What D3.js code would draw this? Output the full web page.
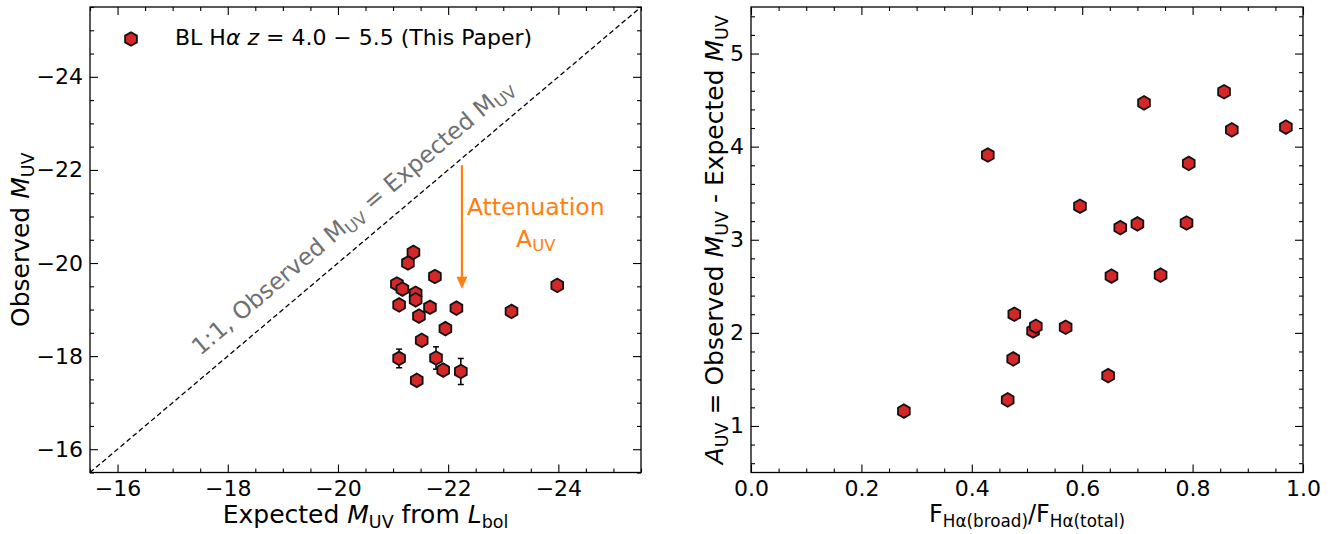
<!DOCTYPE html>
<html>
<head>
<meta charset="utf-8">
<script src="https://cdn.jsdelivr.net/npm/d3@7"></script>
<style>
  body { margin: 0; background: #fff; }
  text { font-family: "DejaVu Sans", sans-serif; }
</style>
</head>
<body>
<div id="chart"></div>
<script>
// left panel: expected vs observed M_UV
var expectedMuv = [-21.37, -21.27, -21.76, -21.07, -21.17, -21.41, -21.41, -21.11, -21.67, -22.15,
                   -23.98, -23.15, -21.47, -21.95, -21.52, -21.11, -21.78, -21.91, -22.23, -21.43];
var observedMuv = [-20.23, -20.00, -19.71, -19.55, -19.44, -19.35, -19.21, -19.10, -19.05, -19.03,
                   -19.52, -18.96, -18.86, -18.59, -18.34, -17.95, -17.96, -17.70, -17.67, -17.48];
var observedErr = [0.08, 0.08, 0.08, 0.08, 0.08, 0.08, 0.08, 0.08, 0.08, 0.08,
                   0.08, 0.08, 0.08, 0.08, 0.08, 0.20, 0.24, 0.10, 0.28, 0.08];

// right panel: broad fraction vs attenuation
var broadFrac   = [0.429, 0.277, 0.465, 0.475, 0.477, 0.511, 0.516, 0.570, 0.596, 0.647,
                   0.653, 0.669, 0.700, 0.712, 0.742, 0.789, 0.793, 0.857, 0.871, 0.969];
var attenuation = [3.91, 1.16, 1.28, 1.72, 2.20, 2.02, 2.07, 2.06, 3.36, 1.54,
                   2.61, 3.13, 3.17, 4.47, 2.62, 3.18, 3.82, 4.59, 4.18, 4.21];

var leftTicks = [-16, -18, -20, -22, -24];
var rightXTicks = [0.0, 0.2, 0.4, 0.6, 0.8, 1.0];
var rightYTicks = [1, 2, 3, 4, 5];

var red = "#d62728", orange = "#ff7f0e";
var tickFont = 22, labelFont = 25;

var svg = d3.select("#chart").append("svg")
    .attr("width", 1341)
    .attr("height", 534);

var xL = d3.scaleLinear().domain([-15.5, -25.5]).range([90, 641]);
var yL = d3.scaleLinear().domain([-15.5, -25.5]).range([472.5, 7]);
var xR = d3.scaleLinear().domain([0, 1]).range([751, 1303]);
var yR = d3.scaleLinear().domain([0.5, 5.5]).range([472.5, 7]);

function hexPath(r) {
  var pts = d3.range(6).map(function(k) {
    var a = Math.PI / 3 * k - Math.PI / 2;
    return [r * Math.cos(a), r * Math.sin(a)];
  });
  return "M" + pts.join("L") + "Z";
}
var hex = hexPath(6.8);

function minorOf(domain, step, majors) {
  var lo = Math.min(domain[0], domain[1]), hi = Math.max(domain[0], domain[1]);
  return d3.range(Math.ceil(lo / step - 1e-6) * step, hi + 1e-6, step)
    .filter(function(v) { return !majors.some(function(m) { return Math.abs(m - v) < 1e-6; }); });
}

function axes(x, y, xMajor, yMajor, xStep, yStep, xFmt, yFmt) {
  var x0 = x.range()[0], x1 = x.range()[1], y0 = y.range()[0], y1 = y.range()[1];
  var xMinor = minorOf(x.domain(), xStep, xMajor), yMinor = minorOf(y.domain(), yStep, yMajor);
  var specs = [
    [d3.axisBottom, x, "translate(0," + y0 + ")", xMajor, 8, xFmt],
    [d3.axisBottom, x, "translate(0," + y0 + ")", xMinor, 4, ""],
    [d3.axisTop, x, "translate(0," + y1 + ")", xMajor, 8, ""],
    [d3.axisTop, x, "translate(0," + y1 + ")", xMinor, 4, ""],
    [d3.axisLeft, y, "translate(" + x0 + ",0)", yMajor, 8, yFmt],
    [d3.axisLeft, y, "translate(" + x0 + ",0)", yMinor, 4, ""],
    [d3.axisRight, y, "translate(" + x1 + ",0)", yMajor, 8, ""],
    [d3.axisRight, y, "translate(" + x1 + ",0)", yMinor, 4, ""]
  ];
  specs.forEach(function(s) {
    var ax = s[0](s[1]).tickValues(s[3]).tickSize(-s[4]).tickPadding(s[0] === d3.axisLeft ? 7 : 8);
    ax.tickFormat(typeof s[5] === "string" ? function() { return ""; } : s[5]);
    var g = svg.append("g").attr("transform", s[2]).call(ax);
    g.select(".domain").remove();
    g.attr("font-family", "DejaVu Sans").attr("font-size", tickFont);
    g.selectAll(".tick line").attr("stroke", "#000").attr("stroke-width", 1.1);
    g.selectAll(".tick text").attr("fill", "#000");
  });
  svg.append("rect")
    .attr("x", x0).attr("y", y1)
    .attr("width", x1 - x0).attr("height", y0 - y1)
    .attr("fill", "none").attr("stroke", "#000").attr("stroke-width", 1.3);
}

// text with italic / subscript pieces
function richText(sel, parts, size) {
  var shift = size * 0.2;
  var down = false;
  parts.forEach(function(p) {
    var t = sel.append("tspan").text(p.t);
    if (p.i) t.attr("font-style", "italic");
    if (p.sub) {
      t.attr("font-size", size * 0.7);
      if (!down) { t.attr("dy", shift); down = true; }
    } else if (down) {
      t.attr("dy", -shift); down = false;
    }
  });
  return sel;
}

axes(xL, yL, leftTicks, leftTicks, 0.5, 0.5, d3.format("d"), d3.format("d"));
axes(xR, yR, rightXTicks, rightYTicks, 0.05, 0.2, d3.format(".1f"), d3.format("d"));

// 1:1 line
svg.append("line")
  .attr("x1", xL(-15.5)).attr("y1", yL(-15.5))
  .attr("x2", xL(-25.5)).attr("y2", yL(-25.5))
  .attr("stroke", "#000").attr("stroke-width", 1.3)
  .attr("stroke-dasharray", "5,3");

var annFont = 23.5;
var ang = Math.atan2(yL(-25.5) - yL(-15.5), xL(-25.5) - xL(-15.5)) * 180 / Math.PI;
var diag = svg.append("text")
  .attr("transform", "translate(" + xL(-17.5) + "," + yL(-18.0) + ") rotate(" + ang + ")")
  .attr("font-family", "Liberation Sans, Arial, sans-serif")
  .attr("font-size", annFont)
  .attr("fill", "#707070");
richText(diag, [{t: "1:1, Observed M"}, {t: "UV", sub: true}, {t: " = Expected M"}, {t: "UV", sub: true}], annFont);

// attenuation arrow
var ax0 = xL(-22.25), ay0 = yL(-22.1), ay1 = yL(-19.45);
svg.append("line")
  .attr("x1", ax0).attr("y1", ay0).attr("x2", ax0).attr("y2", ay1 - 10)
  .attr("stroke", orange).attr("stroke-width", 2.2);
svg.append("path")
  .attr("d", "M" + (ax0 - 5.5) + "," + (ay1 - 12) + "L" + (ax0 + 5.5) + "," + (ay1 - 12) + "L" + ax0 + "," + ay1 + "Z")
  .attr("fill", orange);

svg.append("text")
  .attr("x", xL(-23.59)).attr("y", yL(-21.04))
  .attr("text-anchor", "middle")
  .attr("font-family", "Liberation Sans, Arial, sans-serif")
  .attr("font-size", annFont).attr("fill", orange)
  .text("Attenuation");
var auv = svg.append("text")
  .attr("x", xL(-23.59)).attr("y", yL(-20.35))
  .attr("text-anchor", "middle")
  .attr("font-family", "Liberation Sans, Arial, sans-serif")
  .attr("font-size", annFont).attr("fill", orange);
richText(auv, [{t: "A"}, {t: "UV", sub: true}], annFont);

// left error bars + points
var errG = svg.append("g");
observedMuv.forEach(function(v, i) {
  var cx = xL(expectedMuv[i]), lo = yL(v + observedErr[i]), hi = yL(v - observedErr[i]);
  errG.append("line").attr("x1", cx).attr("x2", cx).attr("y1", lo).attr("y2", hi)
    .attr("stroke", "#000").attr("stroke-width", 1.5);
  [lo, hi].forEach(function(yy) {
    errG.append("line").attr("x1", cx - 3).attr("x2", cx + 3).attr("y1", yy).attr("y2", yy)
      .attr("stroke", "#000").attr("stroke-width", 1.5);
  });
});

svg.append("g").selectAll("path")
  .data(expectedMuv)
  .enter()
  .append("path")
  .attr("d", hex)
  .attr("transform", function(d, i) { return "translate(" + xL(d) + "," + yL(observedMuv[i]) + ")"; })
  .attr("fill", red).attr("stroke", "#111").attr("stroke-width", 1.8);

// right points
svg.append("g").selectAll("path")
  .data(broadFrac)
  .enter()
  .append("path")
  .attr("d", hex)
  .attr("transform", function(d, i) { return "translate(" + xR(d) + "," + yR(attenuation[i]) + ")"; })
  .attr("fill", red).attr("stroke", "#111").attr("stroke-width", 1.8);

// legend
svg.append("path")
  .attr("d", hex)
  .attr("transform", "translate(131,39)")
  .attr("fill", red).attr("stroke", "#111").attr("stroke-width", 1.8);
var leg = svg.append("text").attr("x", 175).attr("y", 45).attr("font-size", tickFont).attr("fill", "#000");
richText(leg, [{t: "BL H"}, {t: "\u03b1", i: true}, {t: " "}, {t: "z", i: true}, {t: " = 4.0 \u2212 5.5 (This Paper)"}], tickFont);

// axis labels
var xlabL = svg.append("text")
  .attr("x", (xL.range()[0] + xL.range()[1]) / 2).attr("y", 523)
  .attr("text-anchor", "middle").attr("font-size", labelFont).attr("fill", "#000");
richText(xlabL, [{t: "Expected "}, {t: "M", i: true}, {t: "UV", sub: true}, {t: " from "}, {t: "L", i: true}, {t: "bol", sub: true}], labelFont);

var ylabL = svg.append("text")
  .attr("transform", "translate(29," + (yL.range()[0] + yL.range()[1]) / 2 + ") rotate(-90)")
  .attr("text-anchor", "middle").attr("font-size", labelFont).attr("fill", "#000");
richText(ylabL, [{t: "Observed "}, {t: "M", i: true}, {t: "UV", sub: true}], labelFont);

var xlabR = svg.append("text")
  .attr("x", (xR.range()[0] + xR.range()[1]) / 2).attr("y", 522)
  .attr("text-anchor", "middle").attr("font-size", 24).attr("fill", "#000");
richText(xlabR, [{t: "F"}, {t: "H\u03b1(broad)", sub: true}, {t: "/F"}, {t: "H\u03b1(total)", sub: true}], 24);

var ylabR = svg.append("text")
  .attr("transform", "translate(723," + (yR.range()[0] + yR.range()[1]) / 2 + ") rotate(-90)")
  .attr("text-anchor", "middle").attr("font-size", labelFont).attr("fill", "#000");
richText(ylabR, [{t: "A", i: true}, {t: "UV", sub: true}, {t: " = Observed "}, {t: "M", i: true}, {t: "UV", sub: true},
                 {t: " - Expected "}, {t: "M", i: true}, {t: "UV", sub: true}], labelFont);
</script>
</body>
</html>
